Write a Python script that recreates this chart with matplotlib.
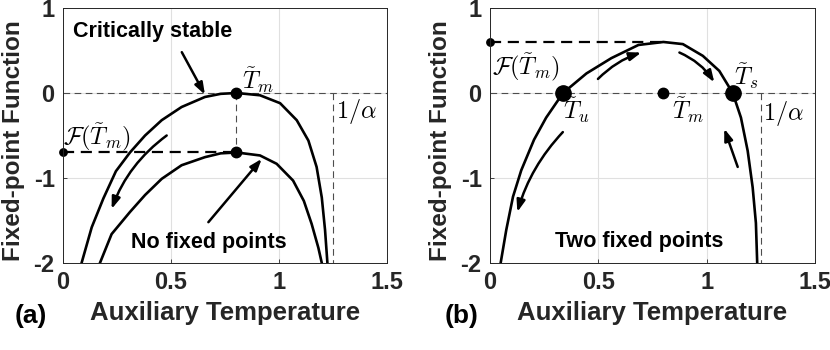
import matplotlib
matplotlib.use("Agg")
import matplotlib.pyplot as plt

plt.rcParams['font.family'] = ['Liberation Sans', 'DejaVu Sans']
plt.rcParams['mathtext.fontset'] = 'cm'

# values
# (a) critically stable curve
xa_crit = [0.086, 0.133, 0.187, 0.245, 0.310, 0.380, 0.457, 0.549, 0.657, 0.730,
           0.804, 0.912, 1.005, 1.082, 1.136, 1.174, 1.198, 1.213, 1.224]
ya_crit = [-2.0, -1.58, -1.24, -0.92, -0.70, -0.50, -0.32, -0.165, -0.047, -0.01,
           0.0, -0.027, -0.12, -0.32, -0.56, -0.87, -1.23, -1.61, -2.0]
# (a) no fixed points curve
xa_none = [0.171, 0.225, 0.310, 0.380, 0.457, 0.549, 0.657, 0.730, 0.804, 0.912,
           0.989, 1.065, 1.115, 1.151, 1.182, 1.198]
ya_none = [-2.0, -1.66, -1.40, -1.20, -1.01, -0.85, -0.755, -0.71, -0.70, -0.735,
           -0.833, -1.03, -1.27, -1.54, -1.82, -2.0]
# (b) two fixed points curve
xb = [0.049, 0.075, 0.106, 0.144, 0.203, 0.259, 0.337, 0.445, 0.560, 0.685,
      0.800, 0.890, 0.982, 1.058, 1.120, 1.158, 1.189, 1.212, 1.227, 1.233]
yb = [-2.0, -1.61, -1.22, -0.91, -0.55, -0.29, 0.0, 0.23, 0.41, 0.565,
      0.60, 0.575, 0.437, 0.26, 0.0, -0.29, -0.68, -1.11, -1.53, -2.0]

t_m = 0.8
inv_alpha = 1.25
fa_m = -0.7      # F(T_m) in (a)
fb_m = 0.6       # F(T_m) in (b)
t_u = 0.337
t_s = 1.12

xticks = [0, 0.5, 1, 1.5]
yticks = [-2, -1, 0, 1]

fig = plt.figure(figsize=(8.3, 3.5), dpi=100)
ax1 = fig.add_axes([0.0759, 0.2486, 0.3904, 0.7286])
ax2 = fig.add_axes([0.5904, 0.2486, 0.3916, 0.7286])

tick_col = '0.15'
thin = dict(color='0.3', lw=0.8, ls=(0, (6, 4)))
thick = dict(color='k', lw=1.6, ls=(0, (5, 3)))
arrow_kw = dict(arrowstyle='-|>,head_length=0.7,head_width=0.25', color='k', lw=1.8,
                shrinkA=0, shrinkB=0)
txt_kw = dict(fontsize=15.5, fontweight='bold', color='k')
math_fs = 17.5

for ax in (ax1, ax2):
    ax.set_xlim(0, 1.5)
    ax.set_ylim(-2, 1)
    ax.set_xticks(xticks)
    ax.set_xticklabels(['0', '0.5', '1', '1.5'])
    ax.set_yticks(yticks)
    ax.set_yticklabels(['-2', '-1', '0', '1'])
    ax.grid(True, color='0.88', lw=0.8)
    ax.set_axisbelow(True)
    ax.tick_params(direction='in', length=3, width=0.6, colors=tick_col, pad=6,
                   labelsize=17)
    for lab in ax.get_xticklabels() + ax.get_yticklabels():
        lab.set_fontweight('bold')
    for s in ax.spines.values():
        s.set_color(tick_col)
        s.set_linewidth(0.7)
    ax.set_xlabel('Auxiliary Temperature', fontsize=18.5, fontweight='bold', color=tick_col)
    ax.set_ylabel('Fixed-point Function', fontsize=17.5, fontweight='bold', color=tick_col)
    ax.xaxis.set_label_coords(0.5, -0.15)
    ax.axhline(0, **thin)
    ax.plot([inv_alpha, inv_alpha], [0, -2], **thin)

ax1.yaxis.set_label_coords(-0.118, 0.48)
ax2.yaxis.set_label_coords(-0.116, 0.48)

# ---- panel (a)
ax1.plot([t_m, t_m], [0, fa_m], **thin)
ax1.plot([0, t_m], [fa_m, fa_m], **thick)
ax1.plot(xa_crit, ya_crit, color='k', lw=1.9)
ax1.plot(xa_none, ya_none, color='k', lw=1.9)
ax1.plot([t_m, t_m], [0, fa_m], 'o', color='k', ms=7.5)
ax1.plot([0], [fa_m], 'o', color='k', ms=5.3, clip_on=False)

ax1.text(0.046, 0.72, 'Critically stable', ha='left', va='center', **txt_kw)
ax1.text(0.674, -1.76, 'No fixed points', ha='center', va='center', **txt_kw)
ax1.text(0.83, 0.15, r'$\tilde{T}_m$', ha='left', va='center', fontsize=math_fs)
ax1.text(1.262, -0.22, r'$1/\alpha$', ha='left', va='center', fontsize=math_fs)
ax1.text(0.0, -0.52, r'$\mathcal{F}(\tilde{T}_m)$', ha='left', va='center', fontsize=math_fs)

ax1.annotate('', xy=(0.657, -0.02), xytext=(0.55, 0.48), arrowprops=arrow_kw)
ax1.annotate('', xy=(0.225, -1.365), xytext=(0.48, -0.50),
             arrowprops=dict(arrow_kw, connectionstyle='arc3,rad=0.15'))
ax1.annotate('', xy=(0.92, -0.775), xytext=(0.673, -1.52), arrowprops=arrow_kw)

# ---- panel (b)
ax2.plot([0, t_m], [fb_m, fb_m], **thick)
ax2.plot(xb, yb, color='k', lw=1.9)
ax2.plot([t_u, t_s], [0, 0], 'o', color='k', ms=11)
ax2.plot([t_m], [0], 'o', color='k', ms=7.5)
ax2.plot([0], [fb_m], 'o', color='k', ms=5.3, clip_on=False)

ax2.text(0.69, -1.75, 'Two fixed points', ha='center', va='center', **txt_kw)
ax2.text(0.01, 0.31, r'$\mathcal{F}(\tilde{T}_m)$', ha='left', va='center', fontsize=math_fs)
ax2.text(0.336, -0.2, r'$\tilde{T}_u$', ha='left', va='center', fontsize=math_fs)
ax2.text(0.842, -0.2, r'$\tilde{T}_m$', ha='left', va='center', fontsize=math_fs)
ax2.text(1.127, 0.2, r'$\tilde{T}_s$', ha='left', va='center', fontsize=math_fs)
ax2.text(1.258, -0.24, r'$1/\alpha$', ha='left', va='center', fontsize=math_fs)

ax2.annotate('', xy=(0.698, 0.476), xytext=(0.498, 0.165),
             arrowprops=dict(arrow_kw, connectionstyle='arc3,rad=-0.12'))
ax2.annotate('', xy=(1.035, 0.125), xytext=(0.874, 0.476),
             arrowprops=dict(arrow_kw, connectionstyle='arc3,rad=-0.15'))
ax2.annotate('', xy=(1.081, -0.42), xytext=(1.143, -0.87), arrowprops=arrow_kw)
ax2.annotate('', xy=(0.126, -1.40), xytext=(0.336, -0.46),
             arrowprops=dict(arrow_kw, connectionstyle='arc3,rad=0.12'))

fig.text(15 / 830, 1 - 316 / 350, '(a)', ha='left', va='center', fontsize=19,
         fontweight='bold', color='k')
fig.text(445 / 830, 1 - 316 / 350, '(b)', ha='left', va='center', fontsize=19,
         fontweight='bold', color='k')

fig.savefig('out.png', dpi=100)
